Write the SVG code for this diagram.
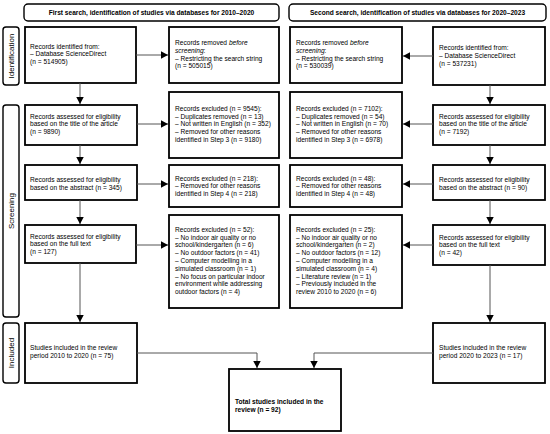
<svg xmlns="http://www.w3.org/2000/svg" width="550" height="434" viewBox="0 0 550 434">
<defs>
<style>
.box{fill:#fff;stroke:#000;stroke-width:1.8}
.hdr{fill:#fff;stroke:#000;stroke-width:1.4}
.t{font-family:"Liberation Sans",Arial,sans-serif;font-size:6.6px;fill:#000}
.b{font-weight:bold}
.side{font-family:"Liberation Sans",Arial,sans-serif;font-size:8px;fill:#000;text-anchor:middle}
.c{stroke:#555;stroke-width:1;fill:none}
</style>
<marker id="ah" markerUnits="userSpaceOnUse" markerWidth="7" markerHeight="8" refX="7" refY="3.75" orient="auto">
<path d="M0,0 L7,3.75 L0,7.5 z" fill="#000"/>
</marker>
</defs>
<rect width="550" height="434" fill="#fff"/>

<g id="header-left">
<rect class="hdr" x="24" y="4" width="255" height="17" rx="4"/>
<text class="t b" x="151.5" y="15" text-anchor="middle">First search, identification of studies via databases for 2010–2020</text>
</g>
<g id="header-right">
<rect class="hdr" x="289" y="4" width="257" height="17" rx="4"/>
<text class="t b" x="417.5" y="15" text-anchor="middle">Second search, identification of studies via databases for 2020–2023</text>
</g>

<g id="phase-identification">
<rect class="hdr" x="3" y="27" width="16" height="58" rx="3"/>
<text class="side" transform="translate(13.9,56) rotate(-90)">Identification</text>
</g>
<g id="phase-screening">
<rect class="hdr" x="3" y="105" width="16" height="212" rx="3"/>
<text class="side" transform="translate(13.9,211) rotate(-90)">Screening</text>
</g>
<g id="phase-included">
<rect class="hdr" x="3" y="323" width="16" height="60" rx="3"/>
<text class="side" transform="translate(13.9,353) rotate(-90)">Included</text>
</g>

<g id="L1">
<rect class="box" x="25" y="27" width="111" height="56"/>
<text class="t" x="30" y="48.5">Records identified from:</text>
<text class="t" x="30" y="56.3">– Database ScienceDirect</text>
<text class="t" x="30" y="64.1">(n = 514905)</text>
</g>
<g id="L1x">
<rect class="box" x="169" y="27" width="110" height="56"/>
<text class="t" x="175" y="45"><tspan>Records removed </tspan><tspan font-style="italic">before</tspan></text>
<text class="t" x="175" y="52.8"><tspan font-style="italic">screening</tspan>:</text>
<text class="t" x="175" y="60.6">– Restricting the search string</text>
<text class="t" x="175" y="68.4">(n = 505015)</text>
</g>
<g id="L2">
<rect class="box" x="25" y="105" width="112" height="40"/>
<text class="t" x="30" y="118.5">Records assessed for eligibility</text>
<text class="t" x="30" y="126.3">based on the title of the article</text>
<text class="t" x="30" y="134.1">(n = 9890)</text>
</g>
<g id="L2x">
<rect class="box" x="169" y="92" width="110" height="66"/>
<text class="t" x="175" y="110.7">Records excluded (n = 9545):</text>
<text class="t" x="175" y="118.5">– Duplicates removed (n = 13)</text>
<text class="t" x="175" y="126.3">– Not written in English (n = 352)</text>
<text class="t" x="175" y="134.1">– Removed for other reasons</text>
<text class="t" x="175" y="141.9">identified in Step 3 (n = 9180)</text>
</g>
<g id="L3">
<rect class="box" x="25" y="165" width="112" height="35"/>
<text class="t" x="30" y="181.8">Records assessed for eligibility</text>
<text class="t" x="30" y="189.6">based on the abstract (n = 345)</text>
</g>
<g id="L3x">
<rect class="box" x="169" y="165" width="110" height="42"/>
<text class="t" x="175" y="180.5">Records excluded (n = 218):</text>
<text class="t" x="175" y="188.3">– Removed for other reasons</text>
<text class="t" x="175" y="196.1">identified in Step 4 (n = 218)</text>
</g>
<g id="L4">
<rect class="box" x="25" y="225" width="111" height="38"/>
<text class="t" x="30" y="238.5">Records assessed for eligibility</text>
<text class="t" x="30" y="246.3">based on the full text</text>
<text class="t" x="30" y="254.1">(n = 127)</text>
</g>
<g id="L4x">
<rect class="box" x="169" y="215" width="110" height="93"/>
<text class="t" x="175" y="231.8">Records excluded (n = 52):</text>
<text class="t" x="175" y="239.6">– No indoor air quality or no</text>
<text class="t" x="175" y="247.4">school/kindergarten (n = 6)</text>
<text class="t" x="175" y="255.2">– No outdoor factors (n = 41)</text>
<text class="t" x="175" y="263">– Computer modelling in a</text>
<text class="t" x="175" y="270.8">simulated classroom (n = 1)</text>
<text class="t" x="175" y="278.6">– No focus on particular indoor</text>
<text class="t" x="175" y="286.4">environment while addressing</text>
<text class="t" x="175" y="294.2">outdoor factors (n = 4)</text>
</g>
<g id="L5">
<rect class="box" x="25" y="323" width="112" height="60"/>
<text class="t" x="30" y="349.8">Studies included in the review</text>
<text class="t" x="30" y="357.6">period 2010 to 2020 (n = 75)</text>
</g>

<g id="R1x">
<rect class="box" x="290" y="27" width="112" height="56"/>
<text class="t" x="296" y="45"><tspan>Records removed </tspan><tspan font-style="italic">before</tspan></text>
<text class="t" x="296" y="52.8"><tspan font-style="italic">screening</tspan>:</text>
<text class="t" x="296" y="60.6">– Restricting the search string</text>
<text class="t" x="296" y="68.4">(n = 530039)</text>
</g>
<g id="R1">
<rect class="box" x="433" y="27" width="112" height="58"/>
<text class="t" x="439" y="50">Records identified from:</text>
<text class="t" x="439" y="57.8">– Database ScienceDirect</text>
<text class="t" x="439" y="65.6">(n = 537231)</text>
</g>
<g id="R2x">
<rect class="box" x="290" y="92" width="112" height="66"/>
<text class="t" x="296" y="110.7">Records excluded (n = 7102):</text>
<text class="t" x="296" y="118.5">– Duplicates removed (n = 54)</text>
<text class="t" x="296" y="126.3">– Not written in English (n = 70)</text>
<text class="t" x="296" y="134.1">– Removed for other reasons</text>
<text class="t" x="296" y="141.9">identified in Step 3 (n = 6978)</text>
</g>
<g id="R2">
<rect class="box" x="433" y="105" width="112" height="40"/>
<text class="t" x="439" y="118.5">Records assessed for eligibility</text>
<text class="t" x="439" y="126.3">based on the title of the article</text>
<text class="t" x="439" y="134.1">(n = 7192)</text>
</g>
<g id="R3x">
<rect class="box" x="290" y="165" width="112" height="42"/>
<text class="t" x="296" y="180.5">Records excluded (n = 48):</text>
<text class="t" x="296" y="188.3">– Removed for other reasons</text>
<text class="t" x="296" y="196.1">identified in Step 4 (n = 48)</text>
</g>
<g id="R3">
<rect class="box" x="433" y="165" width="112" height="35"/>
<text class="t" x="439" y="181.8">Records assessed for eligibility</text>
<text class="t" x="439" y="189.6">based on the abstract (n = 90)</text>
</g>
<g id="R4x">
<rect class="box" x="290" y="215" width="112" height="93"/>
<text class="t" x="296" y="231.8">Records excluded (n = 25):</text>
<text class="t" x="296" y="239.6">– No indoor air quality or no</text>
<text class="t" x="296" y="247.4">school/kindergarten (n = 2)</text>
<text class="t" x="296" y="255.2">– No outdoor factors (n = 12)</text>
<text class="t" x="296" y="263">– Computer modelling in a</text>
<text class="t" x="296" y="270.8">simulated classroom (n = 4)</text>
<text class="t" x="296" y="278.6">– Literature review (n = 1)</text>
<text class="t" x="296" y="286.4">– Previously included in the</text>
<text class="t" x="296" y="294.2">review 2010 to 2020 (n = 6)</text>
</g>
<g id="R4">
<rect class="box" x="433" y="225" width="112" height="40"/>
<text class="t" x="439" y="239.5">Records assessed for eligibility</text>
<text class="t" x="439" y="247.3">based on the full text</text>
<text class="t" x="439" y="255.1">(n = 42)</text>
</g>
<g id="R5">
<rect class="box" x="433" y="323" width="112" height="60"/>
<text class="t" x="439" y="349.8">Studies included in the review</text>
<text class="t" x="439" y="357.6">period 2020 to 2023 (n = 17)</text>
</g>

<g id="total">
<rect class="box" x="229" y="369" width="112" height="62"/>
<text class="t b" x="235" y="404">Total studies included in the</text>
<text class="t b" x="235" y="411.8">review (n = 92)</text>
</g>

<g id="connectors">
<line class="c" x1="136" y1="55" x2="168" y2="55" marker-end="url(#ah)"/>
<line class="c" x1="433" y1="56" x2="403" y2="56" marker-end="url(#ah)"/>
<line class="c" x1="137" y1="124" x2="168" y2="124" marker-end="url(#ah)"/>
<line class="c" x1="433" y1="124" x2="403" y2="124" marker-end="url(#ah)"/>
<line class="c" x1="137" y1="184" x2="168" y2="184" marker-end="url(#ah)"/>
<line class="c" x1="433" y1="184" x2="403" y2="184" marker-end="url(#ah)"/>
<line class="c" x1="136" y1="245" x2="168" y2="245" marker-end="url(#ah)"/>
<line class="c" x1="433" y1="245" x2="403" y2="245" marker-end="url(#ah)"/>
<line class="c" x1="80" y1="83" x2="80" y2="104" marker-end="url(#ah)"/>
<line class="c" x1="80" y1="145" x2="80" y2="164" marker-end="url(#ah)"/>
<line class="c" x1="80" y1="200" x2="80" y2="224" marker-end="url(#ah)"/>
<line class="c" x1="80" y1="263" x2="80" y2="322" marker-end="url(#ah)"/>
<line class="c" x1="490" y1="85" x2="490" y2="104" marker-end="url(#ah)"/>
<line class="c" x1="490" y1="145" x2="490" y2="164" marker-end="url(#ah)"/>
<line class="c" x1="490" y1="200" x2="490" y2="224" marker-end="url(#ah)"/>
<line class="c" x1="490" y1="265" x2="490" y2="322" marker-end="url(#ah)"/>
<polyline class="c" points="137,353 257,353 257,368" marker-end="url(#ah)"/>
<polyline class="c" points="433,353 314,353 314,368" marker-end="url(#ah)"/>
</g>
</svg>
